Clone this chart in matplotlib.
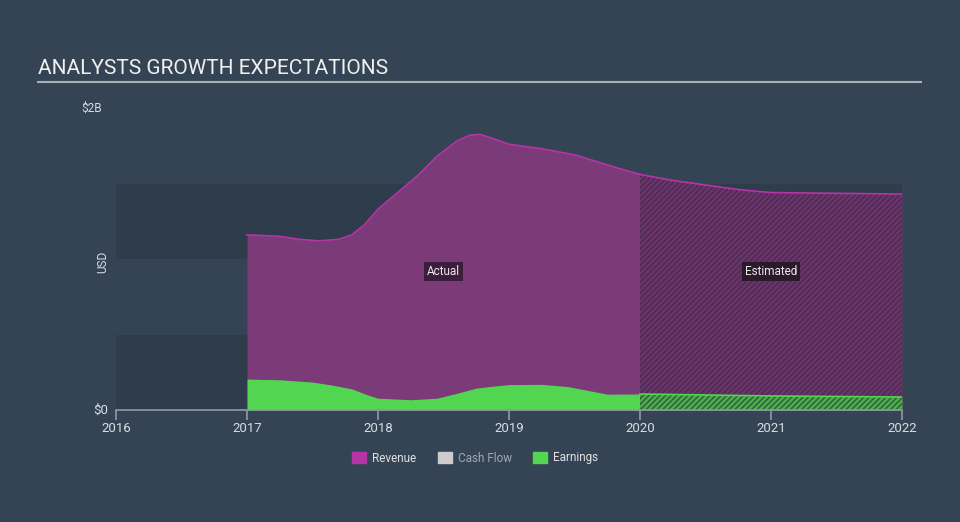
import matplotlib.pyplot as plt
import matplotlib.patches as mpatches
import numpy as np

plt.rcParams['font.family'] = ['Roboto', 'DejaVu Sans']
plt.rcParams['hatch.linewidth'] = 1.0

# values (billions USD)
rev_years = [2017.0, 2017.25, 2017.4, 2017.55, 2017.7, 2017.8, 2017.9, 2018.0, 2018.15, 2018.3,
             2018.45, 2018.6, 2018.7, 2018.78, 2018.87, 2019.0, 2019.25, 2019.5, 2019.65,
             2019.8, 2020.0]
rev_vals = [1.16, 1.15, 1.13, 1.12, 1.13, 1.16, 1.23, 1.33, 1.44, 1.55,
            1.68, 1.78, 1.82, 1.825, 1.80, 1.76, 1.73, 1.69, 1.65, 1.61, 1.56]
rev_est_years = [2020.0, 2020.25, 2020.5, 2020.75, 2021.0, 2021.5, 2022.0]
rev_est_vals = [1.56, 1.52, 1.49, 1.46, 1.44, 1.435, 1.43]

earn_years = [2017.0, 2017.25, 2017.5, 2017.65, 2017.8, 2017.92, 2018.0, 2018.25, 2018.45,
              2018.6, 2018.75, 2018.9, 2019.0, 2019.25, 2019.45, 2019.6, 2019.75, 2020.0]
earn_vals = [0.205, 0.20, 0.185, 0.165, 0.14, 0.10, 0.078, 0.068, 0.078,
             0.11, 0.145, 0.16, 0.168, 0.17, 0.155, 0.13, 0.105, 0.106]
earn_est_years = [2020.0, 2021.0, 2022.0]
earn_est_vals = [0.106, 0.093, 0.086]

year_ticks = [2016, 2017, 2018, 2019, 2020, 2021, 2022]
legend_names = ['Revenue', 'Cash Flow', 'Earnings']

bg = '#344454'
rev_fill = '#7b3a78'
rev_line = '#b535a6'
earn_fill = '#52d652'
band = '#2e3c4b'

fig = plt.figure(figsize=(9.6, 5.22), dpi=100)
fig.patch.set_facecolor(bg)
ax = fig.add_axes([116 / 960, (522 - 410) / 522, 786 / 960, 302 / 522])
ax.set_facecolor(bg)
ax.set_xlim(2016, 2022)
ax.set_ylim(0, 2.0)

# darker background bands
for lo, hi in [(0, 0.5), (1.0, 1.5)]:
    ax.axhspan(lo, hi, color=band, zorder=0, lw=0)

# revenue
ax.fill_between(rev_years, 0, rev_vals, color=rev_fill, lw=0, zorder=2)
ax.fill_between(rev_est_years, 0, rev_est_vals, color='#6c3569', lw=0, zorder=2)
ax.fill_between(rev_est_years, 0, rev_est_vals, facecolor='none', edgecolor='#4a2a55',
                hatch='//////', lw=0, zorder=2.5)
ax.plot(rev_years, rev_vals, color=rev_line, lw=1.2, zorder=3)
ax.plot(rev_est_years, rev_est_vals, color=rev_line, lw=1.2, zorder=3)

# earnings
ax.fill_between(earn_years, 0, earn_vals, color=earn_fill, lw=0, zorder=4)
ax.fill_between(earn_est_years, 0, earn_est_vals, color='#4caf4c', lw=0, zorder=4)
ax.fill_between(earn_est_years, 0, earn_est_vals, facecolor='none', edgecolor='#2f5a3a',
                hatch='//////', lw=0, zorder=4.5)
ax.plot(earn_est_years, earn_est_vals, color=earn_fill, lw=1.2, zorder=5)

for s in ['top', 'right', 'left']:
    ax.spines[s].set_visible(False)
ax.spines['bottom'].set_color('#8e9aa6')
ax.spines['bottom'].set_linewidth(1.2)
ax.spines['bottom'].set_zorder(6)
ax.set_xticks(year_ticks)
ax.set_xticklabels([str(y) for y in year_ticks])
ax.tick_params(axis='x', colors='#8e9aa6', length=7, width=1.2, labelcolor='#d8dde2',
               labelsize=9.5, pad=2)
ax.set_yticks([])

ax.text(-0.01, 0, '$0', transform=ax.get_yaxis_transform(), ha='right', va='center',
        color='#d8dde2', fontsize=9.5)
ax.text(-0.018, 2.0, '$2B', transform=ax.get_yaxis_transform(), ha='right', va='center',
        color='#d8dde2', fontsize=8.5)
fig.text(103 / 960, 1 - 262 / 522, 'USD', rotation=90, ha='center', va='center',
         color='#d8dde2', fontsize=8.5)

ax.text(2018.5, 0.92, 'Actual', ha='center', va='center', color='#e8e8e8', fontsize=8.5,
        zorder=7, bbox=dict(boxstyle='square,pad=0.25', fc='#3d1d3c', ec='none'))
ax.text(2021.0, 0.92, 'Estimated', ha='center', va='center', color='#e8e8e8', fontsize=8.5,
        zorder=7, bbox=dict(boxstyle='square,pad=0.25', fc='#2a1a2c', ec='none'))

# title and rule
fig.text(38 / 960, 1 - 69 / 522, 'ANALYSTS GROWTH EXPECTATIONS', ha='left', va='center',
         color='#f0f0f0', fontsize=15)
fig.add_artist(plt.Line2D([38 / 960, 921 / 960], [1 - 82 / 522, 1 - 82 / 522],
                          color='#a8b0b8', lw=1.5))

# legend
handles = [mpatches.Patch(color=rev_line), mpatches.Patch(color='#cccccc'),
           mpatches.Patch(color=earn_fill)]
leg = fig.legend(handles, legend_names, loc='center', bbox_to_anchor=(0.495, 1 - 458 / 522),
                 ncol=3, frameon=False, fontsize=8.5, handlelength=1.2, handleheight=1.0,
                 columnspacing=1.8, handletextpad=0.5)
for t, c in zip(leg.get_texts(), ['#e0e0e0', '#a0a8b0', '#e0e0e0']):
    t.set_color(c)

fig.savefig('out.png', dpi=100, facecolor=bg)
